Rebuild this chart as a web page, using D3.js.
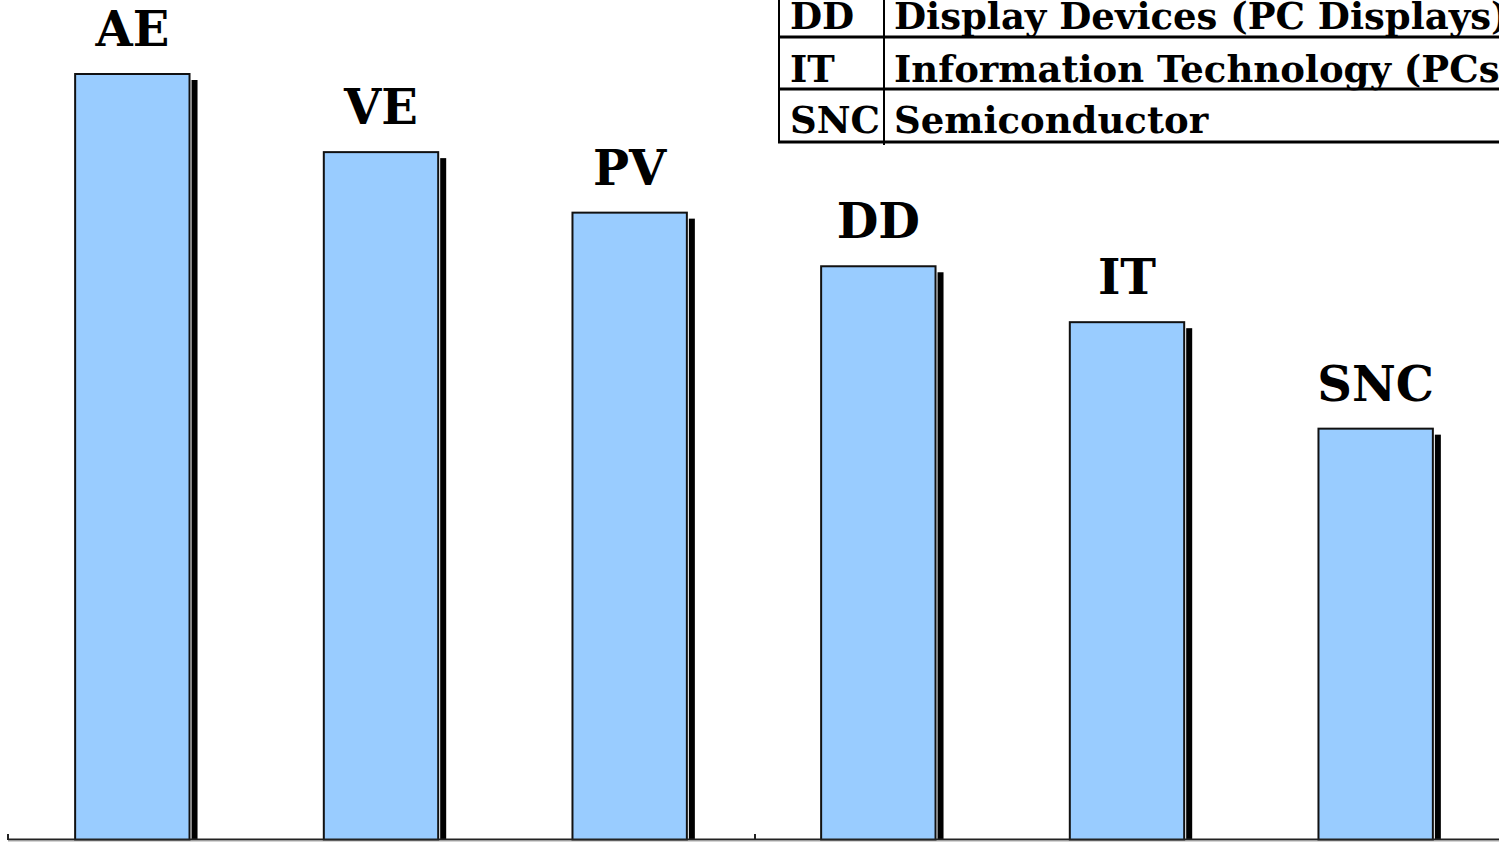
<!DOCTYPE html>
<html>
<head>
<meta charset="utf-8">
<script src="https://cdn.jsdelivr.net/npm/d3@7"></script>
<style>
html,body{margin:0;padding:0;background:#fff;overflow:hidden;}
svg{display:block;}
</style>
</head>
<body>
<svg id="chart" width="1499" height="842"></svg>
<script>
const categories = ["AE", "VE", "PV", "DD", "IT", "SNC"];
const values = [100, 89.8, 81.9, 74.9, 67.6, 53.7];
const legendCodes = ["DD", "IT", "SNC"];
const legendNames = ["Display Devices (PC Displays)", "Information Technology (PCs)", "Semiconductor"];

const svg = d3.select("#chart");
const W = 1499, H = 842;
const baseY = 840;

const x = d3.scaleBand().domain(categories).range([8, 1500]).paddingInner(0.54).paddingOuter(0.27);
const y = d3.scaleLinear().domain([0, 100]).range([baseY, 74]);

// shadows
svg.append("g").selectAll("rect").data(categories).join("rect")
  .attr("x", d => x(d) + x.bandwidth() + 2)
  .attr("y", (d, i) => y(values[i]) + 6)
  .attr("width", 6)
  .attr("height", (d, i) => baseY - y(values[i]) - 6)
  .attr("fill", "#000");

// bars
svg.append("g").selectAll("rect").data(categories).join("rect")
  .attr("x", d => x(d))
  .attr("y", (d, i) => y(values[i]))
  .attr("width", x.bandwidth())
  .attr("height", (d, i) => baseY - y(values[i]))
  .attr("fill", "#99CCFF")
  .attr("stroke", "#111")
  .attr("stroke-width", 2);

// labels
svg.append("g").selectAll("text").data(categories).join("text")
  .attr("x", d => x(d) + x.bandwidth() / 2)
  .attr("y", (d, i) => y(values[i]) - 28)
  .attr("text-anchor", "middle")
  .attr("font-family", "DejaVu Serif")
  .attr("font-weight", "bold")
  .attr("font-size", 48)
  .attr("fill", "#000")
  .text(d => d);

// axis
const axisScale = d3.scaleLinear().domain([0, 2]).range([8, 755 + 747]);
const axis = d3.axisBottom(axisScale).tickValues([0, 1, 2]).tickSize(6).tickFormat("");
const ag = svg.append("g").attr("transform", `translate(0,${baseY})`);
ag.append("line").attr("x1", 8).attr("x2", W + 5).attr("y1", -0.5).attr("y2", -0.5)
  .attr("stroke", "#222").attr("stroke-width", 2);
ag.append("line").attr("x1", 8).attr("x2", W + 5).attr("y1", 1).attr("y2", 1)
  .attr("stroke", "#aaa").attr("stroke-width", 1);
ag.selectAll(".tk").data([0, 1]).join("line")
  .attr("x1", d => axisScale(d)).attr("x2", d => axisScale(d))
  .attr("y1", -6).attr("y2", 0)
  .attr("stroke", "#222").attr("stroke-width", 2);

// legend table
const lg = svg.append("g");
const rowY = d3.scaleLinear().domain([0, 3]).range([-15, 142]);
const tLeft = 779, tDiv = 884, tRight = W + 10;
lg.append("line").attr("x1", tLeft).attr("x2", tLeft).attr("y1", -2).attr("y2", 143)
  .attr("stroke", "#000").attr("stroke-width", 2);
lg.append("line").attr("x1", tDiv).attr("x2", tDiv).attr("y1", -2).attr("y2", 145)
  .attr("stroke", "#000").attr("stroke-width", 2);
lg.selectAll(".rl").data([1, 2, 3]).join("line")
  .attr("x1", tLeft - 1).attr("x2", tRight)
  .attr("y1", d => [37, 89, 142][d - 1]).attr("y2", d => [37, 89, 142][d - 1])
  .attr("stroke", "#000").attr("stroke-width", 3);
const baselines = [29, 82, 133];
lg.selectAll(".code").data(legendCodes).join("text")
  .attr("x", 790).attr("y", (d, i) => baselines[i])
  .attr("font-family", "DejaVu Serif").attr("font-weight", "bold").attr("font-size", 37)
  .text(d => d);
lg.selectAll(".name").data(legendNames).join("text")
  .attr("x", 894).attr("y", (d, i) => baselines[i])
  .attr("font-family", "DejaVu Serif").attr("font-weight", "bold").attr("font-size", 37)
  .text(d => d);
</script>
</body>
</html>
